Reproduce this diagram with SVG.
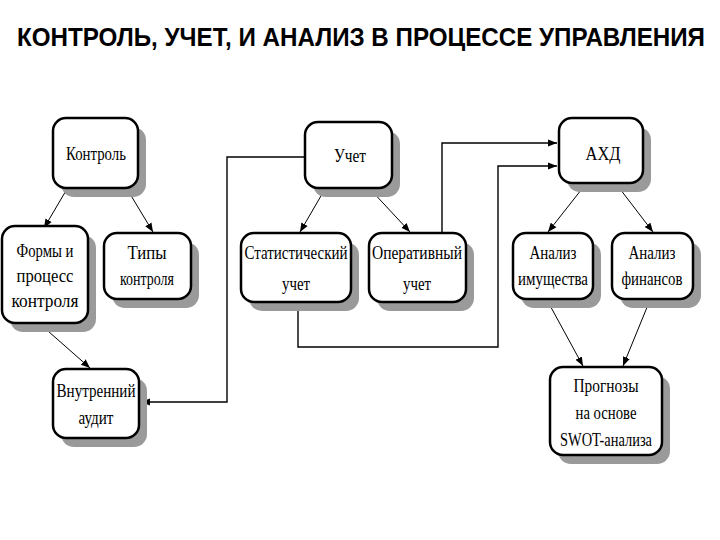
<svg xmlns="http://www.w3.org/2000/svg" width="720" height="540" viewBox="0 0 720 540">
<defs>
<marker id="ah" viewBox="0 0 10 10" refX="10" refY="5" markerWidth="9" markerHeight="9" markerUnits="userSpaceOnUse" orient="auto">
<path d="M0,1 L10,5 L0,9 z" fill="#000"/>
</marker>
<style>
.sh{fill:#9a9a9a;}
.bx{fill:#fff;stroke:#000;stroke-width:2.5;}
.t{font-family:"Liberation Serif","Times New Roman",serif;font-size:18px;fill:#000;text-anchor:middle;}
.c{fill:none;stroke:#000;stroke-width:1;}
.e{fill:none;stroke:#000;stroke-width:1.4;}
.title{font-family:"Liberation Sans",Arial,sans-serif;font-weight:bold;font-size:22px;fill:#000;}
</style>
</defs>
<rect width="720" height="540" fill="#fff"/>
<text class="title" x="0" y="0" transform="translate(17,46) scale(1,1.13)" textLength="688" lengthAdjust="spacingAndGlyphs">КОНТРОЛЬ, УЧЕТ, И АНАЛИЗ В ПРОЦЕССЕ УПРАВЛЕНИЯ</text>

<g id="connectors">
<line class="c" x1="67" y1="189" x2="44" y2="228" marker-end="url(#ah)"/>
<line class="c" x1="127" y1="189" x2="153" y2="232" marker-end="url(#ah)"/>
<line class="c" x1="325" y1="189" x2="300" y2="232" marker-end="url(#ah)"/>
<line class="c" x1="370" y1="189" x2="410" y2="232" marker-end="url(#ah)"/>
<line class="c" x1="585" y1="185" x2="548" y2="232" marker-end="url(#ah)"/>
<line class="c" x1="617" y1="185" x2="653" y2="232" marker-end="url(#ah)"/>
<line class="c" x1="40" y1="324" x2="90" y2="368" marker-end="url(#ah)"/>
<line class="c" x1="547" y1="300" x2="583" y2="366" marker-end="url(#ah)"/>
<line class="c" x1="650" y1="300" x2="623" y2="366" marker-end="url(#ah)"/>
<polyline class="e" points="305,157 227,157 227,402 141,402" marker-end="url(#ah)"/>
<polyline class="e" points="298,303 298,347 498,347 498,166 557,166" marker-end="url(#ah)"/>
<polyline class="e" points="442,233 442,143 557,143" marker-end="url(#ah)"/>
</g>

<g id="n-kontrol">
<rect class="sh" x="61" y="127" width="85" height="70" rx="13"/>
<rect class="bx" x="53" y="118" width="85" height="70" rx="13"/>
<text class="t" x="96" y="160" textLength="60" lengthAdjust="spacingAndGlyphs">Контроль</text>
</g>
<g id="n-formy">
<rect class="sh" x="10" y="235" width="86" height="97" rx="13"/>
<rect class="bx" x="2" y="226" width="86" height="97" rx="13"/>
<text class="t" x="45" y="257" textLength="57" lengthAdjust="spacingAndGlyphs">Формы и</text>
<text class="t" x="45" y="282" textLength="57" lengthAdjust="spacingAndGlyphs">процесс</text>
<text class="t" x="45" y="307" textLength="67" lengthAdjust="spacingAndGlyphs">контроля</text>
</g>
<g id="n-tipy">
<rect class="sh" x="112" y="242" width="87" height="66" rx="13"/>
<rect class="bx" x="104" y="233" width="87" height="66" rx="13"/>
<text class="t" x="147" y="259" textLength="39" lengthAdjust="spacingAndGlyphs">Типы</text>
<text class="t" x="147" y="285" textLength="54" lengthAdjust="spacingAndGlyphs">контроля</text>
</g>
<g id="n-audit">
<rect class="sh" x="61" y="378" width="86" height="69" rx="13"/>
<rect class="bx" x="53" y="369" width="86" height="69" rx="13"/>
<text class="t" x="96" y="397" textLength="79" lengthAdjust="spacingAndGlyphs">Внутренний</text>
<text class="t" x="96" y="424" textLength="35" lengthAdjust="spacingAndGlyphs">аудит</text>
</g>
<g id="n-uchet">
<rect class="sh" x="313" y="131" width="87" height="66" rx="13"/>
<rect class="bx" x="305" y="122" width="87" height="66" rx="13"/>
<text class="t" x="350" y="162" textLength="32" lengthAdjust="spacingAndGlyphs">Учет</text>
</g>
<g id="n-stat">
<rect class="sh" x="249" y="242" width="110" height="69" rx="13"/>
<rect class="bx" x="241" y="233" width="110" height="69" rx="13"/>
<text class="t" x="296" y="259" textLength="103" lengthAdjust="spacingAndGlyphs">Статистический</text>
<text class="t" x="296" y="290" textLength="28" lengthAdjust="spacingAndGlyphs">учет</text>
</g>
<g id="n-oper">
<rect class="sh" x="377" y="242" width="97" height="69" rx="13"/>
<rect class="bx" x="369" y="233" width="97" height="69" rx="13"/>
<text class="t" x="417" y="259" textLength="90" lengthAdjust="spacingAndGlyphs">Оперативный</text>
<text class="t" x="417" y="290" textLength="28" lengthAdjust="spacingAndGlyphs">учет</text>
</g>
<g id="n-ahd">
<rect class="sh" x="567" y="127" width="84" height="65" rx="13"/>
<rect class="bx" x="559" y="118" width="84" height="65" rx="13"/>
<text class="t" x="603" y="160" textLength="35" lengthAdjust="spacingAndGlyphs">АХД</text>
</g>
<g id="n-imush">
<rect class="sh" x="521" y="242" width="80" height="66" rx="13"/>
<rect class="bx" x="513" y="233" width="80" height="66" rx="13"/>
<text class="t" x="553" y="259" textLength="47" lengthAdjust="spacingAndGlyphs">Анализ</text>
<text class="t" x="553" y="285" textLength="70" lengthAdjust="spacingAndGlyphs">имущества</text>
</g>
<g id="n-fin">
<rect class="sh" x="620" y="242" width="81" height="66" rx="13"/>
<rect class="bx" x="612" y="233" width="81" height="66" rx="13"/>
<text class="t" x="652" y="259" textLength="47" lengthAdjust="spacingAndGlyphs">Анализ</text>
<text class="t" x="652" y="285" textLength="61" lengthAdjust="spacingAndGlyphs">финансов</text>
</g>
<g id="n-prognoz">
<rect class="sh" x="558" y="376" width="112" height="88" rx="13"/>
<rect class="bx" x="550" y="367" width="112" height="88" rx="13"/>
<text class="t" x="606" y="392" textLength="65" lengthAdjust="spacingAndGlyphs">Прогнозы</text>
<text class="t" x="606" y="419" textLength="61" lengthAdjust="spacingAndGlyphs">на основе</text>
<text class="t" x="606" y="446" textLength="92" lengthAdjust="spacingAndGlyphs">SWOT-анализа</text>
</g>
</svg>
